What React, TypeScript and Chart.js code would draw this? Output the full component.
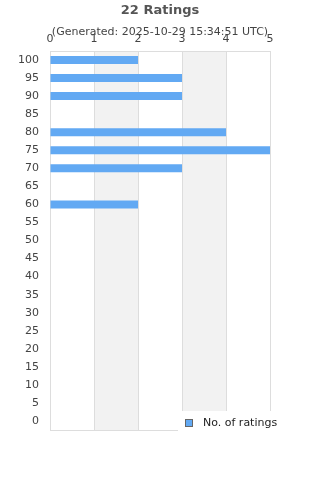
import React, { useEffect, useRef } from "react";
import { Chart, registerables } from "chart.js";

Chart.register(...registerables);

const TITLE = "22 Ratings";
const SUBTITLE = "(Generated: 2025-10-29 15:34:51 UTC)";
const SERIES_LABEL = "No. of ratings";
const categories = ["100", "95", "90", "85", "80", "75", "70", "65", "60", "55", "50", "45", "40", "35", "30", "25", "20", "15", "10", "5", "0"];
const ratingCounts = [2, 3, 3, 0, 4, 5, 3, 0, 2, 0, 0, 0, 0, 0, 0, 0, 0, 0, 0, 0, 0];
const xMin = 0;
const xMax = 5;

const BAR_COLOR = "#62a9f3";
const FONT = "'DejaVu Sans', sans-serif";

const bandsPlugin = {
  id: "bands",
  beforeDraw(chart: any) {
    const { ctx, chartArea, scales } = chart;
    const x = scales.x;
    ctx.save();
    ctx.fillStyle = "#f2f2f2";
    for (let v = xMin + 1; v < xMax; v += 2) {
      const a = x.getPixelForValue(v);
      const b = x.getPixelForValue(v + 1);
      ctx.fillRect(a, chartArea.top, b - a, chartArea.bottom - chartArea.top);
    }
    ctx.restore();
  },
  afterDraw(chart: any) {
    const { ctx, chartArea } = chart;
    ctx.save();
    ctx.strokeStyle = "#dddddd";
    ctx.lineWidth = 1;
    ctx.beginPath();
    ctx.moveTo(chartArea.left, Math.round(chartArea.bottom) + 0.5);
    ctx.lineTo(chartArea.right, Math.round(chartArea.bottom) + 0.5);
    ctx.stroke();
    const lx = 178;
    const ly = chartArea.bottom - 19;
    ctx.fillStyle = "#ffffff";
    ctx.fillRect(lx, ly, chart.width - lx, 21);
    ctx.fillStyle = BAR_COLOR;
    ctx.fillRect(185, ly + 8, 8, 8);
    ctx.strokeStyle = "#666666";
    ctx.strokeRect(185.5, ly + 8.5, 7, 7);
    ctx.fillStyle = "#222222";
    ctx.font = "11px " + FONT;
    ctx.textBaseline = "middle";
    ctx.textAlign = "left";
    ctx.fillText(chart.data.datasets[0].label, 203, ly + 12);
    ctx.restore();
  },
};

export default function App() {
  const ref = useRef<HTMLCanvasElement | null>(null);
  useEffect(() => {
    document.body.style.margin = "0";
    Chart.defaults.font.family = FONT;
    const chart = new Chart(ref.current as HTMLCanvasElement, {
      type: "bar",
      data: {
        labels: categories,
        datasets: [
          {
            label: SERIES_LABEL,
            data: ratingCounts,
            backgroundColor: BAR_COLOR,
            borderWidth: 0,
            barThickness: 8,
            inflateAmount: 0,
          },
        ],
      },
      options: {
        indexAxis: "y",
        animation: false,
        responsive: false,
        maintainAspectRatio: false,
        layout: { padding: { left: 0, right: 0, top: 0, bottom: 50 } },
        plugins: {
          legend: { display: false },
          tooltip: { enabled: false },
          title: {
            display: true,
            text: TITLE,
            color: "#555555",
            font: { size: 13, weight: "bold", family: FONT },
            padding: { top: 3, bottom: 3 },
          },
          subtitle: {
            display: true,
            text: SUBTITLE,
            color: "#444444",
            font: { size: 11, family: FONT },
            padding: { top: 4, bottom: -11 },
          },
        },
        scales: {
          x: {
            position: "top",
            min: xMin,
            max: xMax,
            ticks: { stepSize: 1, color: "#444444", font: { size: 11, family: FONT }, padding: 5 },
            grid: { color: "#dddddd", drawTicks: false },
            border: { color: "#dddddd" },
          },
          y: {
            type: "category",
            ticks: { color: "#444444", font: { size: 11, family: FONT }, padding: 11, autoSkip: false },
            grid: { display: false, drawTicks: false },
            border: { color: "#dddddd" },
            afterFit: (scale: any) => {
              scale.width = 50;
            },
          },
          spacer: {
            type: "linear",
            position: "right",
            display: true,
            ticks: { display: false },
            grid: { display: false, drawTicks: false },
            border: { display: false },
            afterFit: (scale: any) => {
              scale.width = 50;
            },
          },
        },
      },
      plugins: [bandsPlugin],
    } as any);
    return () => chart.destroy();
  }, []);
  return (
    <div style={{ width: 320, height: 480 }}>
      <canvas ref={ref} width={320} height={480} style={{ width: 320, height: 480, display: "block" }} />
    </div>
  );
}
